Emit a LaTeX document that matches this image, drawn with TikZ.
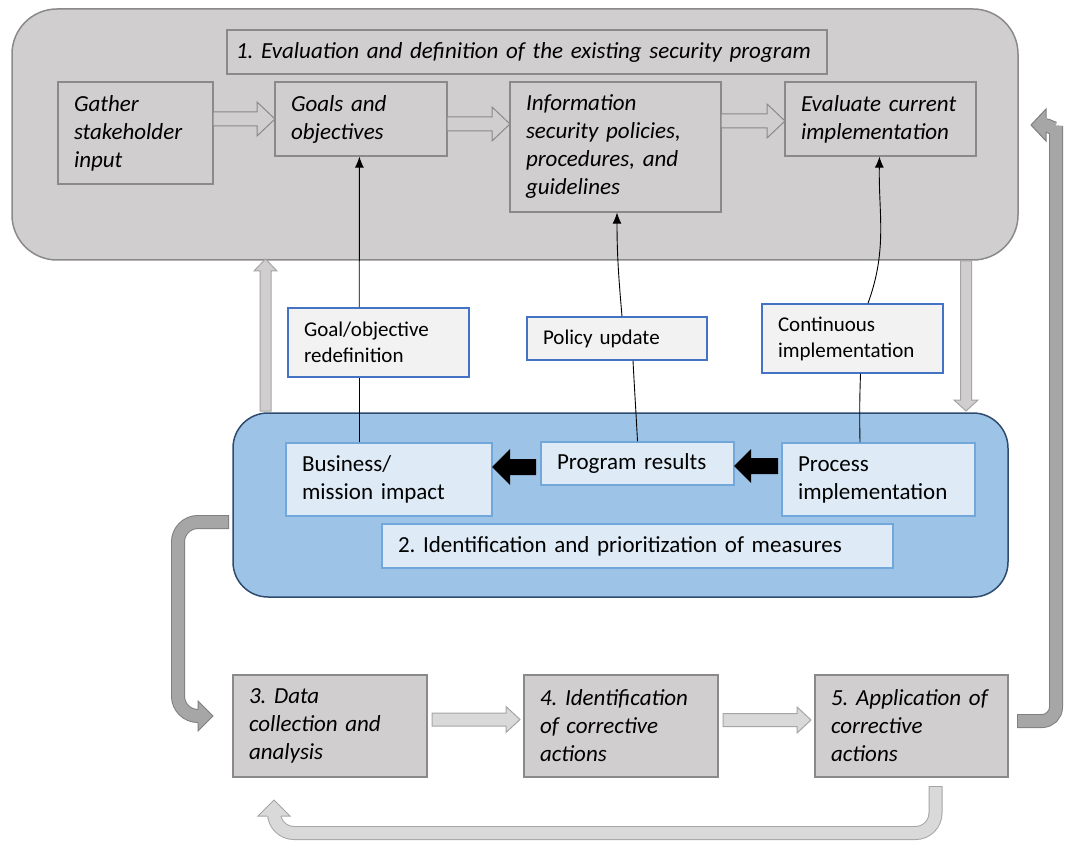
\documentclass[tikz,border=0pt]{standalone}
\usepackage{fontspec}
\setmainfont{Carlito}
\usetikzlibrary{arrows.meta,calc}
\hyphenpenalty=10000
\exhyphenpenalty=10000
\frenchspacing

\definecolor{regiongray}{HTML}{D0CECF}
\definecolor{boxgray}{HTML}{D0CECE}
\definecolor{edgegray}{HTML}{8A8A8A}
\definecolor{regionblue}{HTML}{9DC3E6}
\definecolor{navy}{HTML}{2F4B6E}
\definecolor{paleblue}{HTML}{DEEBF7}
\definecolor{midblue}{HTML}{72A7DC}
\definecolor{labelfill}{HTML}{F2F2F2}
\definecolor{labeledge}{HTML}{4472C4}
\definecolor{darkarrow}{HTML}{A6A6A6}
\definecolor{darkarrowedge}{HTML}{7F7F7F}
\definecolor{lightarrow}{HTML}{D9D9D9}
\definecolor{lightarrowedge}{HTML}{A5A5A5}

% block arrows: [style]{from}{to}{centre line}{shaft half}{head half}{head length}
\newcommand\blockR[7][]{\path[#1] (#2,#4-#5) -- (#3-#7,#4-#5) -- (#3-#7,#4-#6) -- (#3,#4)
  -- (#3-#7,#4+#6) -- (#3-#7,#4+#5) -- (#2,#4+#5) -- cycle;}
\newcommand\blockL[7][]{\path[#1] (#2,#4) -- (#2+#7,#4-#6) -- (#2+#7,#4-#5) -- (#3,#4-#5)
  -- (#3,#4+#5) -- (#2+#7,#4+#5) -- (#2+#7,#4+#6) -- cycle;}
\newcommand\blockU[7][]{\path[#1] (#2,#3) -- (#2+#6,#3+#7) -- (#2+#5,#3+#7) -- (#2+#5,#4)
  -- (#2-#5,#4) -- (#2-#5,#3+#7) -- (#2-#6,#3+#7) -- cycle;}
\newcommand\blockD[7][]{\path[#1] (#2-#5,#3) -- (#2+#5,#3) -- (#2+#5,#4-#7) -- (#2+#6,#4-#7)
  -- (#2,#4) -- (#2-#6,#4-#7) -- (#2-#5,#4-#7) -- cycle;}

\tikzset{
  txt/.style={rectangle, inner xsep=16pt, inner ysep=0pt, align=left},
  graybox/.style={txt, draw=edgegray, fill=boxgray, line width=1.2pt,
    font=\fontsize{23}{28}\selectfont\itshape},
  bluebox/.style={txt, draw=midblue, fill=paleblue, line width=1.5pt,
    font=\fontsize{23}{28}\selectfont},
  labelbox/.style={txt, draw=labeledge, fill=labelfill, line width=1.5pt,
    font=\fontsize{21}{26}\selectfont},
  link/.style={black, line width=0.9pt},
  linktip/.style={link, -{Latex[length=11pt,width=9pt]}},
  hollow/.style={draw=edgegray, fill=boxgray, line width=1pt},
  lighthollow/.style={draw=lightarrowedge, fill=lightarrow, line width=1pt},
  solidblock/.style={fill=black},
}

\begin{document}
\begin{tikzpicture}[x=1pt,y=-1pt]
\useasboundingbox (0,0) rectangle (1066,842);

% stage 1 region
\node[draw=edgegray, fill=regiongray, line width=1.5pt, rounded corners=45pt,
      minimum width=1006pt, minimum height=251pt, inner sep=0pt] (stage1) at (515,134.5) {};
\node[graybox, inner xsep=9pt, text width=582pt, minimum height=44pt] (title) at (527,52)
  {\mbox{1. Evaluation and definition of the existing security program}};
\node[graybox, text width=123pt, minimum height=102pt] (gather) at (135.5,133) {Gather\\stakeholder\\input};
\node[graybox, text width=140pt, minimum height=74pt] (goals) at (361,119) {Goals and\\objectives};
\node[graybox, text width=179pt, minimum height=130pt] (info) at (615.5,147)
  {Information\\\mbox{security policies,}\\procedures, and\\guidelines};
\node[graybox, text width=159pt, minimum height=74pt] (evaluate) at (880.5,119) {Evaluate current\\implementation};

\blockR[hollow]{213}{275}{119}{7}{17}{18}
\blockR[hollow]{447}{510}{124}{7}{17}{18}
\blockR[hollow]{721}{785}{121}{7}{17}{18}

% stage 2 region
\node[draw=navy, fill=regionblue, line width=1.5pt, rounded corners=35pt,
      minimum width=775pt, minimum height=184pt, inner sep=0pt] (stage2) at (620.5,505) {};
\node[bluebox, text width=174pt, minimum height=73pt] (business) at (389,479.5) {Business/\\mission impact};
\node[bluebox, text width=161pt, minimum height=43pt] (results) at (637.5,463.5) {Program results};
\node[bluebox, text width=161pt, minimum height=73pt] (process) at (878.5,479.5) {Process\\implementation};
\node[bluebox, text width=479pt, minimum height=44pt] (stage2title) at (637.5,546)
  {2. Identification and prioritization of measures};

\blockL[solidblock]{492}{536}{467}{8}{18}{18}
\blockL[solidblock]{734}{778}{466}{8}{17}{17}

% feedback labels
\node[labelbox, text width=149pt, minimum height=69pt] (goallbl) at (378.5,342.5) {Goal/objective\\redefinition};
\node[labelbox, text width=148pt, minimum height=43pt] (policylbl) at (617,338.5) {Policy update};
\node[labelbox, text width=149pt, minimum height=69pt] (contlbl) at (852.5,338.5) {Continuous\\implementation};

% feedback links
\draw[link] ([xshift=74pt]business.north west) -- ([xshift=72pt]goallbl.south west);
\draw[linktip] ([xshift=72pt]goallbl.north west) -- ([xshift=85pt]goals.south west);
\draw[link] (results.north) to[out=93,in=-87] ([xshift=16pt]policylbl.south);
\draw[linktip] ([xshift=5pt]policylbl.north) to[out=95,in=-90] ([xshift=1.5pt]info.south);
\draw[link] ([xshift=-18.5pt]process.north) to[out=91,in=-92] ([xshift=8pt]contlbl.south);
\draw[linktip] ([xshift=15.5pt]contlbl.north) to[out=70,in=-91] ([xshift=-1pt]evaluate.south);

% transfer arrows between stage 1 and stage 2
\blockU[draw=lightarrowedge, fill=boxgray, line width=1pt]{265.5}{259}{411}{5.5}{11.5}{12}
\blockD[draw=lightarrowedge, fill=boxgray, line width=1pt]{966}{261}{411}{5.5}{12}{11}

% corrective action stages
\node[graybox, text width=162pt, minimum height=102pt] (collect) at (330,726) {3. Data\\collection and\\analysis};
\node[graybox, text width=162pt, minimum height=102pt] (identify) at (621,726) {4. Identification\\of corrective\\actions};
\node[graybox, text width=161pt, minimum height=102pt] (apply) at (911.5,726) {5. Application of\\corrective\\actions};

\blockR[lighthollow]{432}{520}{719.5}{6.5}{13}{14}
\blockR[lighthollow]{723}{811}{720}{6.5}{13}{14}

% bent arrow: stage 2 -> stage 3
\draw[darkarrowedge, line width=14pt, rounded corners=20pt] (229,522) -- (178,522) -- (178,716) -- (199,716);
\draw[darkarrow, line width=12pt, rounded corners=20pt, shorten <=1pt] (229,522) -- (178,522) -- (178,716) -- (199,716);
\fill[darkarrow] (198,701) -- (213,716) -- (198,731) -- cycle;
\draw[darkarrowedge, line width=1pt] (198,709) -- (198,701) -- (213,716) -- (198,731) -- (198,723);

% bent arrow: stage 5 -> stage 1
\draw[darkarrowedge, line width=14pt, rounded corners=14pt] (1017,721) -- (1056,721) -- (1056,140) to[out=90,in=0] (1043,125);
\draw[darkarrow, line width=12pt, rounded corners=14pt, shorten <=1pt] (1017,721) -- (1056,721) -- (1056,140) to[out=90,in=0] (1043,125);
\fill[darkarrow] (1046,109) -- (1031,125) -- (1046,141) -- cycle;
\draw[darkarrowedge, line width=1pt] (1046,118) -- (1046,109) -- (1031,125) -- (1046,141) -- (1046,132);

% bent arrow: stage 5 -> stage 3
\draw[lightarrowedge, line width=14pt, rounded corners=20pt] (935.5,786) -- (935.5,833) -- (274,833) -- (274,815);
\draw[lightarrow, line width=12pt, rounded corners=20pt, shorten <=1pt] (935.5,786) -- (935.5,833) -- (274,833) -- (274,815);
\fill[lightarrow] (258,816) -- (274,800) -- (290,816) -- cycle;
\draw[lightarrowedge, line width=1pt] (267,816) -- (258,816) -- (274,800) -- (290,816) -- (281,816);

\end{tikzpicture}
\end{document}
